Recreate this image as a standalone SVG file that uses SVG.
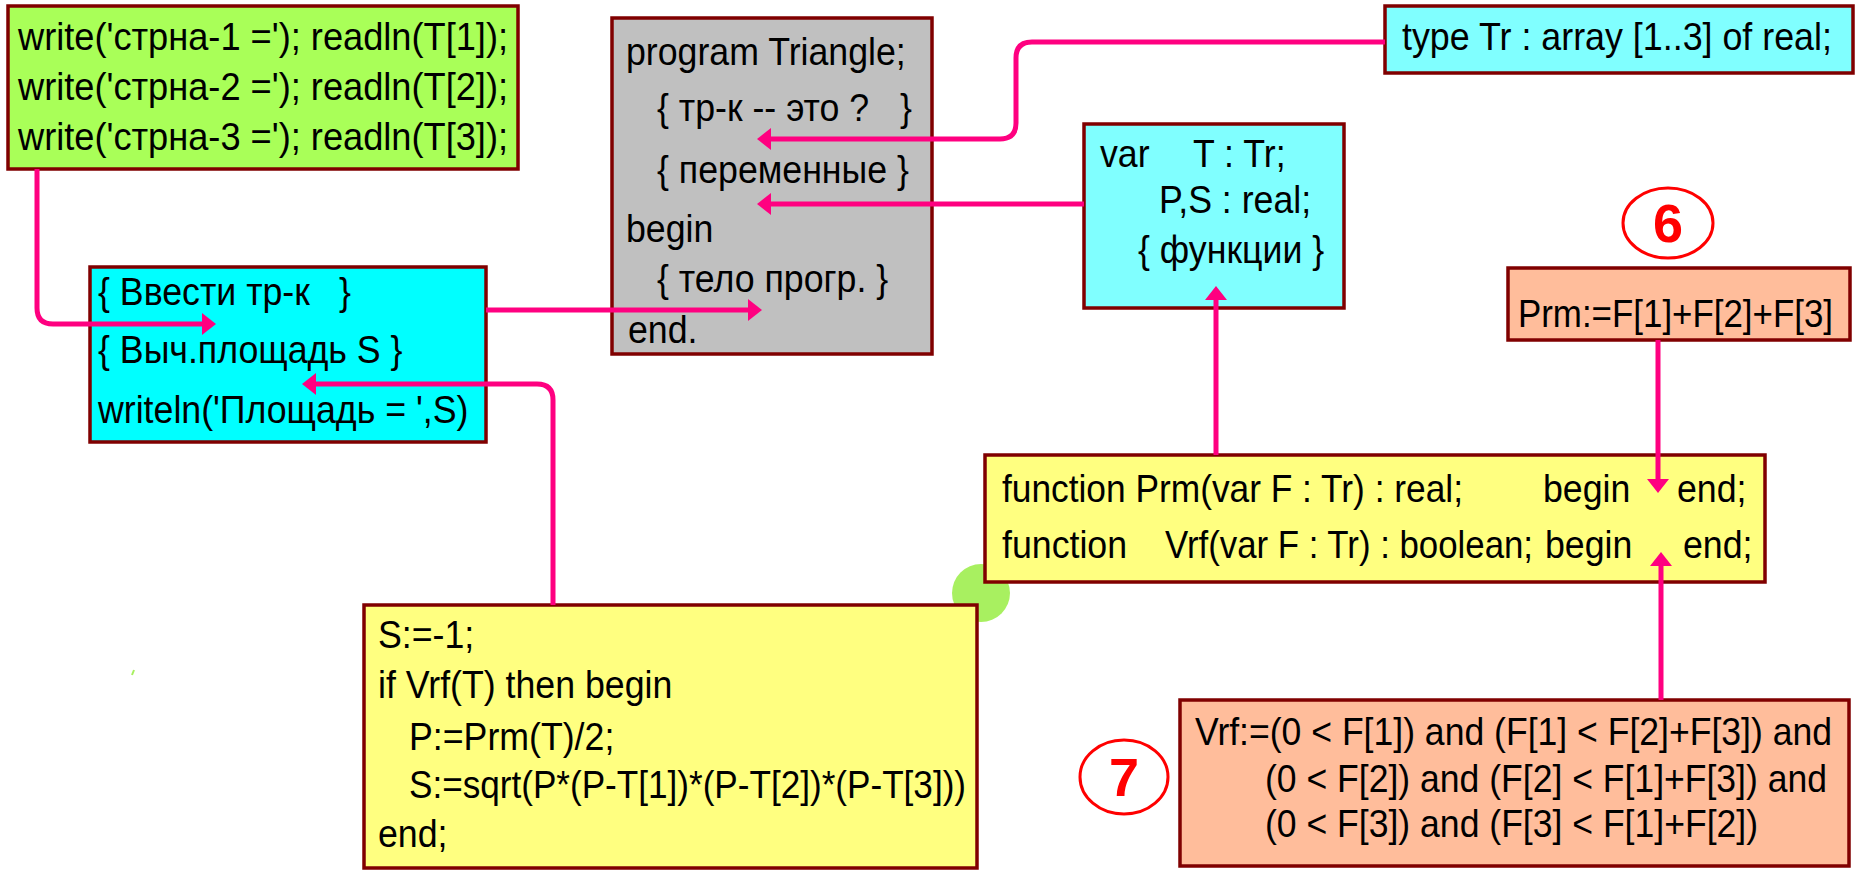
<svg xmlns="http://www.w3.org/2000/svg" width="1856" height="870" viewBox="0 0 1856 870">
  <defs>
    <style>
      .box { stroke: #800000; stroke-width: 3.5; }
      .t { font-family: "Liberation Sans", Arial, sans-serif; font-size: 38px; fill: #000; white-space: pre; }
      .num { font-family: "Liberation Sans", Arial, sans-serif; font-size: 54px; font-weight: bold; fill: #ff0000; text-anchor: middle; }
      .ring { fill: none; stroke: #ff0000; stroke-width: 3; }
      .link { fill: none; stroke: #ff0080; stroke-width: 5; marker-end: url(#arrow); }
      .green { fill: #a9ff58; }
      .gray { fill: #c0c0c0; }
      .cyan { fill: #00ffff; }
      .lcyan { fill: #80ffff; }
      .yellow { fill: #ffff80; }
      .salmon { fill: #ffbd9b; }
    </style>
    <marker id="arrow" viewBox="0 -12 15 24" refX="1" refY="0" markerWidth="15" markerHeight="24" markerUnits="userSpaceOnUse" orient="auto">
      <path d="M0,-11 L14,0 L0,11 Z" fill="#ff0080"/>
    </marker>
  </defs>

  <rect width="1856" height="870" fill="#ffffff"/>

  <!-- background dots -->
  <circle cx="981" cy="593" r="29" fill="#a8f060"/>
  <path d="M132,675 L134,670" stroke="#a8f060" stroke-width="2"/>

  <!-- input statements (text runs are set in a narrowed coordinate system: x = real x / 0.94) -->
  <g id="input">
    <rect class="box green" x="8" y="6" width="510" height="163"/>
    <g transform="scale(0.94,1)">
      <text class="t" x="19.15" y="50" textLength="521.3" lengthAdjust="spacingAndGlyphs">write('стрна-1 ='); readln(T[1]);</text>
      <text class="t" x="19.15" y="100" textLength="521.3" lengthAdjust="spacingAndGlyphs">write('стрна-2 ='); readln(T[2]);</text>
      <text class="t" x="19.15" y="150" textLength="521.3" lengthAdjust="spacingAndGlyphs">write('стрна-3 ='); readln(T[3]);</text>
    </g>
  </g>

  <!-- program skeleton -->
  <g id="program">
    <rect class="box gray" x="612" y="18" width="320" height="336"/>
    <g transform="scale(0.94,1)">
      <text class="t" x="665.96" y="65">program Triangle;</text>
      <text class="t" x="698.94" y="121">{ тр-к -- это ?</text>
      <text class="t" x="957.45" y="121">}</text>
      <text class="t" x="698.94" y="183">{ переменные }</text>
      <text class="t" x="665.96" y="242">begin</text>
      <text class="t" x="698.94" y="292">{ тело прогр. }</text>
      <text class="t" x="668.09" y="343">end.</text>
    </g>
  </g>

  <!-- main body -->
  <g id="body">
    <rect class="box cyan" x="90" y="267" width="396" height="175"/>
    <g transform="scale(0.94,1)">
      <text class="t" x="104.26" y="305">{ Ввести тр-к</text>
      <text class="t" x="360.64" y="305">}</text>
      <text class="t" x="104.26" y="363">{ Выч.площадь S }</text>
      <text class="t" x="104.26" y="423">writeln('Площадь = ',S)</text>
    </g>
  </g>

  <!-- type declaration -->
  <g id="type">
    <rect class="box lcyan" x="1385" y="6" width="468" height="67"/>
    <g transform="scale(0.94,1)">
      <text class="t" x="1491.49" y="50" textLength="457.4" lengthAdjust="spacingAndGlyphs">type Tr : array [1..3] of real;</text>
    </g>
  </g>

  <!-- variables -->
  <g id="vars">
    <rect class="box lcyan" x="1084" y="124" width="260" height="184"/>
    <g transform="scale(0.94,1)">
      <text class="t" x="1170.21" y="167">var</text>
      <text class="t" x="1269.15" y="167">T : Tr;</text>
      <text class="t" x="1232.98" y="213">P,S : real;</text>
      <text class="t" x="1210.64" y="263">{ функции }</text>
    </g>
  </g>

  <!-- marker 6 -->
  <g id="mark6">
    <ellipse class="ring" cx="1668" cy="223" rx="45" ry="35"/>
    <text class="num" x="1668" y="242">6</text>
  </g>

  <!-- perimeter body -->
  <g id="prm">
    <rect class="box salmon" x="1508" y="268" width="342" height="72"/>
    <g transform="scale(0.94,1)">
      <text class="t" x="1614.89" y="327" textLength="335.1" lengthAdjust="spacingAndGlyphs">Prm:=F[1]+F[2]+F[3]</text>
    </g>
  </g>

  <!-- function headers -->
  <g id="functions">
    <rect class="box yellow" x="985" y="455" width="780" height="127"/>
    <g transform="scale(0.94,1)">
      <text class="t" x="1065.96" y="502" textLength="490.4" lengthAdjust="spacingAndGlyphs">function Prm(var F : Tr) : real;</text>
      <text class="t" x="1641.49" y="502">begin</text>
      <text class="t" x="1784.04" y="502">end;</text>
      <text class="t" x="1065.96" y="558">function</text>
      <text class="t" x="1239.36" y="558" textLength="391.5" lengthAdjust="spacingAndGlyphs">Vrf(var F : Tr) : boolean;</text>
      <text class="t" x="1643.62" y="558">begin</text>
      <text class="t" x="1790.43" y="558">end;</text>
    </g>
  </g>

  <!-- area computation -->
  <g id="area">
    <rect class="box yellow" x="364" y="605" width="613" height="263"/>
    <g transform="scale(0.94,1)">
      <text class="t" x="402.13" y="648">S:=-1;</text>
      <text class="t" x="402.13" y="698">if Vrf(T) then begin</text>
      <text class="t" x="435.11" y="750">P:=Prm(T)/2;</text>
      <text class="t" x="435.11" y="798" textLength="592.6" lengthAdjust="spacingAndGlyphs">S:=sqrt(P*(P-T[1])*(P-T[2])*(P-T[3]))</text>
      <text class="t" x="402.13" y="847">end;</text>
    </g>
  </g>

  <!-- marker 7 -->
  <g id="mark7">
    <ellipse class="ring" cx="1124" cy="777" rx="44" ry="37"/>
    <text class="num" x="1124" y="796">7</text>
  </g>

  <!-- verification body -->
  <g id="vrf">
    <rect class="box salmon" x="1180" y="700" width="669" height="166"/>
    <g transform="scale(0.94,1)">
      <text class="t" x="1271.28" y="745" textLength="677.7" lengthAdjust="spacingAndGlyphs">Vrf:=(0 &lt; F[1]) and (F[1] &lt; F[2]+F[3]) and</text>
      <text class="t" x="1345.74" y="792" textLength="597.9" lengthAdjust="spacingAndGlyphs">(0 &lt; F[2]) and (F[2] &lt; F[1]+F[3]) and</text>
      <text class="t" x="1345.74" y="837" textLength="524.5" lengthAdjust="spacingAndGlyphs">(0 &lt; F[3]) and (F[3] &lt; F[1]+F[2])</text>
    </g>
  </g>

  <!-- connectors -->
  <g id="connectors">
    <path class="link" d="M37,169 V308 Q37,324 53,324 H203"/>
    <path class="link" d="M486,310 H749"/>
    <path class="link" d="M553,605 V400 Q553,384 537,384 H315"/>
    <path class="link" d="M1385,42 H1032 Q1016,42 1016,58 V123 Q1016,139 1000,139 H770"/>
    <path class="link" d="M1084,204 H770"/>
    <path class="link" d="M1216,455 V299"/>
    <path class="link" d="M1658,340 V480"/>
    <path class="link" d="M1661,700 V565"/>
  </g>
</svg>
